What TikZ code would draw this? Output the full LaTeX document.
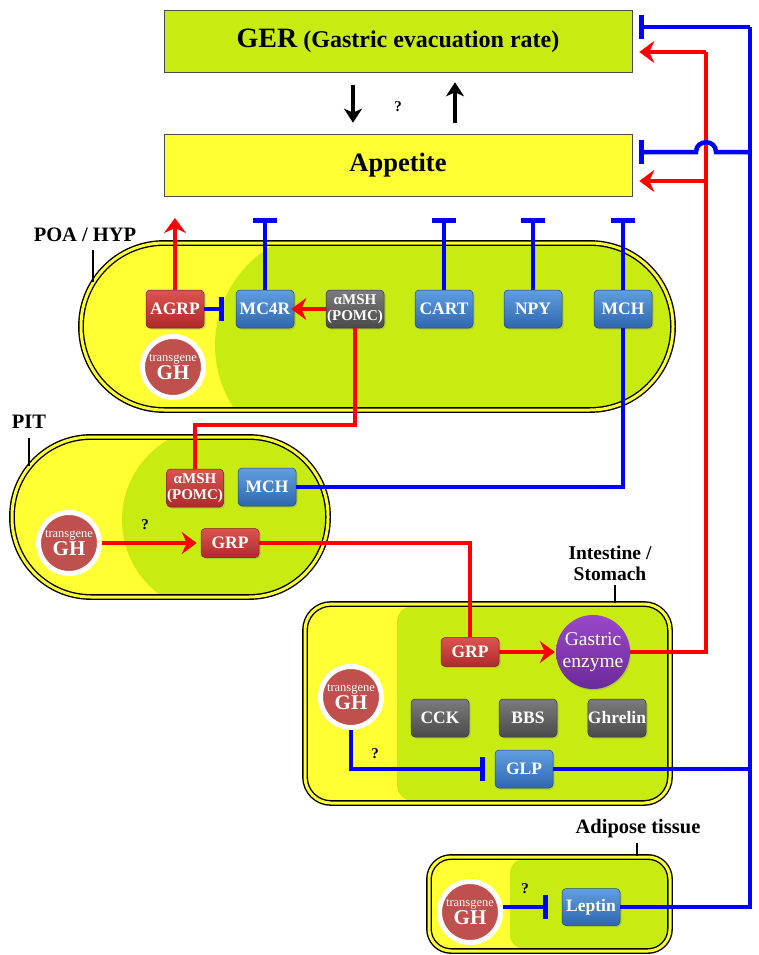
\documentclass[tikz,border=0pt]{standalone}
\usepackage{fontspec}
\setmainfont{Liberation Serif}
\usetikzlibrary{arrows.meta,shadows}
\definecolor{limeC}{HTML}{C8EC12}
\definecolor{yelC}{HTML}{FFFF33}
\definecolor{redT}{HTML}{DB5450}
\definecolor{redB}{HTML}{AE2A2A}
\definecolor{blueT}{HTML}{609FE0}
\definecolor{blueB}{HTML}{2F66AE}
\definecolor{grayT}{HTML}{7C7C7C}
\definecolor{grayB}{HTML}{4A4A4A}
\definecolor{ghred}{HTML}{C0504D}
\definecolor{purpT}{HTML}{9A48C8}
\definecolor{purpB}{HTML}{6A2A9A}
\definecolor{lineR}{HTML}{FF0000}
\definecolor{lineB}{HTML}{0000FF}
\newcommand{\ghtext}{{\fontsize{12.5}{12.5}\selectfont transgene}\\[0pt]{\bfseries\fontsize{21}{21}\selectfont GH}}
\tikzset{
 nbox/.style={rounded corners=4pt, minimum width=58pt, minimum height=38pt, inner sep=0pt, text=white, align=center, font=\bfseries\fontsize{17.5}{18}\selectfont, drop shadow={opacity=0.3,shadow xshift=1.5pt,shadow yshift=-1.5pt}},
 redbox/.style={nbox, top color=redT, bottom color=redB, draw=redB!70!black, line width=0.5pt},
 bluebox/.style={nbox, top color=blueT, bottom color=blueB, draw=blueB!70!black, line width=0.5pt},
 graybox/.style={nbox, top color=grayT, bottom color=grayB, draw=grayB!70!black, line width=0.5pt},
 ghc/.style={circle, fill=ghred, draw=white, line width=5pt, minimum size=61pt, inner sep=0pt, text=white, align=center, drop shadow={opacity=0.3,shadow xshift=1pt,shadow yshift=-1.5pt}},
 region/.style={draw=black, line width=1.4pt, double=yelC, double distance=3pt},
 lbl/.style={font=\bfseries\fontsize{20.5}{21}\selectfont, align=center},
 qmark/.style={font=\bfseries\fontsize{15}{15}\selectfont},
 rline/.style={draw=lineR, line width=4pt},
 bline/.style={draw=lineB, line width=4.5pt},
 rarr/.style={rline, -{Stealth[length=15pt,width=22pt,inset=5pt]}},
 bbar/.style={bline, -{Bar[width=24pt]}},
 blk/.style={draw=black, line width=3.2pt, -{Stealth[length=14pt,width=18pt,inset=4pt]}},
 tick/.style={draw=black, line width=1.2pt},
 topbox/.style={draw=black!70, line width=0.6pt, minimum width=468pt, minimum height=62pt, inner sep=0pt, font=\bfseries},
}
\begin{document}
\begin{tikzpicture}[x=1pt,y=-1pt]
\useasboundingbox (0,0) rectangle (759,955);
\fill[white] (0,0) rectangle (759,955);

% ---------- top boxes ----------
\node[topbox, fill=limeC] (ger) at (398,41) {{\fontsize{28}{28}\selectfont GER}{\fontsize{24}{24}\selectfont\ (Gastric evacuation rate)}};
\node[topbox, fill=yelC] (app) at (398,165) {\fontsize{26.5}{26.5}\selectfont Appetite};
\draw[blk] ([xshift=-45pt,yshift=-13pt]ger.south) -- ([xshift=-45pt,yshift=11pt]app.north);
\draw[blk] ([xshift=57pt,yshift=11pt]app.north) -- ([xshift=57pt,yshift=-10pt]ger.south);
\node[qmark] (q0) at (398,107) {?};

% ---------- POA / HYP ----------
\begin{scope}
\clip[rounded corners=83pt] (81,243) rectangle (673,410);
\fill[yelC] (70,230) rectangle (690,420);
\fill[limeC] (330,345) circle (115pt);
\fill[limeC] (330,230) rectangle (690,420);
\end{scope}
\draw[region, rounded corners=83pt] (81,243) rectangle (673,410);
\node[lbl] (lhyp) at (85,235) {POA / HYP};
\draw[tick] (93,250) -- (93,282);

% ---------- PIT ----------
\begin{scope}
\clip[rounded corners=79pt] (12,437) rectangle (328,597);
\fill[yelC] (0,430) rectangle (340,610);
\fill[limeC] (215,520) circle (93pt);
\fill[limeC] (215,430) rectangle (340,610);
\end{scope}
\draw[region, rounded corners=79pt] (12,437) rectangle (328,597);
\node[lbl] (lpit) at (29,422) {PIT};
\draw[tick] (29,438) -- (29,466);

% ---------- Intestine / Stomach ----------
\begin{scope}
\clip[rounded corners=26pt] (305,604) rectangle (670,803);
\fill[yelC] (300,600) rectangle (680,810);
\fill[limeC, rounded corners=16pt] (397,606) rectangle (700,801);
\end{scope}
\draw[region, rounded corners=26pt] (305,604) rectangle (670,803);
\node[lbl, font=\bfseries\fontsize{19.5}{21}\selectfont] (lint) at (610,563) {Intestine /\\Stomach};
\draw[tick] (615,585) -- (615,603);

% ---------- Adipose ----------
\begin{scope}
\clip[rounded corners=22pt] (429,857) rectangle (670,951);
\fill[yelC] (420,850) rectangle (680,960);
\fill[limeC, rounded corners=14pt] (510,859) rectangle (700,949);
\end{scope}
\draw[region, rounded corners=22pt] (429,857) rectangle (670,951);
\node[lbl] (ladi) at (638,829) {Adipose tissue};
\draw[tick] (637,843) -- (637,856);

% ---------- HYP nodes ----------
\node[redbox] (agrp) at (175,309) {AGRP};
\node[bluebox] (mc4r) at (265,309) {MC4R};
\node[graybox, font=\bfseries\fontsize{15}{16}\selectfont] (amsh) at (355,309) {αMSH\\(POMC)};
\node[bluebox] (cart) at (444,309) {CART};
\node[bluebox] (npy) at (533,309) {NPY};
\node[bluebox] (mch) at (623,309) {MCH};
\node[ghc] (gh1) at (173,367) {\ghtext};

% ---------- PIT nodes ----------
\node[redbox, font=\bfseries\fontsize{15}{16}\selectfont, minimum width=57pt] (pamsh) at (195,488) {αMSH\\(POMC)};
\node[bluebox] (pmch) at (267,487) {MCH};
\node[redbox, minimum height=29pt] (pgrp) at (230,543) {GRP};
\node[ghc] (gh2) at (69,543) {\ghtext};

% ---------- Intestine nodes ----------
\node[redbox, minimum height=29pt] (igrp) at (470,652) {GRP};
\node[circle, minimum size=74pt, inner sep=0pt, top color=purpT, bottom color=purpB, text=white, align=center, font=\fontsize{19.5}{22}\selectfont, drop shadow={opacity=0.3,shadow xshift=1pt,shadow yshift=-1.5pt}] (enz) at (593,652) {Gastric\\enzyme};
\node[graybox] (cck) at (440,718) {CCK};
\node[graybox] (bbs) at (528,718) {BBS};
\node[graybox] (ghr) at (617,718) {Ghrelin};
\node[bluebox] (glp) at (524,769) {GLP};
\node[ghc] (gh3) at (351,697) {\ghtext};
\node[qmark] (q2) at (375,754) {?};

% ---------- Adipose nodes ----------
\node[bluebox, minimum height=37pt] (lep) at (591,907) {Leptin};
\node[ghc] (gh4) at (470,912) {\ghtext};
\node[qmark] (q3) at (525,889) {?};

% ---------- coordinates ----------
\coordinate (topy) at (0,218);
\coordinate (rv) at (706,52);
\coordinate (rv2) at (706,181);
\coordinate (bv) at (750,27);
\coordinate (bj) at (750,152);
\coordinate (hopR) at (716,152);
\coordinate (hopL) at (696,152);
\coordinate (rj1) at (355,425);

% ---------- HYP connectors ----------
\draw[rarr] (agrp.north) -- (agrp.north |- topy);
\draw[bbar] (mc4r.north) -- (mc4r.north |- topy);
\draw[bbar] (cart.north) -- (cart.north |- topy);
\draw[bbar] (npy.north) -- (npy.north |- topy);
\draw[bbar] (mch.north) -- (mch.north |- topy);
\draw[bbar, shorten >=12pt] (agrp.east) -- (mc4r.west);
\draw[rarr, shorten >=-3pt] (amsh.west) -- (mc4r.east);
\draw[rline] (amsh.south) -- (rj1) -| (pamsh.north);
\draw[bline] (mch.south) |- (pmch.east);

% ---------- PIT connectors ----------
\draw[rarr, shorten >=4pt] (gh2.east) -- (pgrp.west);
\node[qmark] (q1) at (145,525) {?};
\draw[rline] (pgrp.east) -| (igrp.north);

% ---------- Intestine connectors ----------
\draw[rarr, shorten >=1pt] (igrp.east) -- (enz.west);
\draw[rline] (enz.east) -| (rv);
\draw[rarr, shorten >=7pt] (rv) -- (ger.east |- rv);
\draw[rarr, shorten >=7pt] (rv2) -- (app.east |- rv2);
\draw[bbar, shorten >=10pt] (gh3.south) |- (glp.west);
\draw[bline] (glp.east) -- (glp.east -| bv);

% ---------- Adipose connectors ----------
\draw[bbar, shorten >=14pt] (gh4.east |- lep.west) -- (lep.west);
\draw[bline] (lep.east) -| (bv);
\draw[bbar, shorten >=7pt] (bv) -- (ger.east |- bv);
\draw[bbar, shorten >=7pt] (bj) -- (hopR) .. controls ([yshift=13pt]hopR) and ([yshift=13pt]hopL) .. (hopL) -- (app.east |- bj);
\end{tikzpicture}
\end{document}
